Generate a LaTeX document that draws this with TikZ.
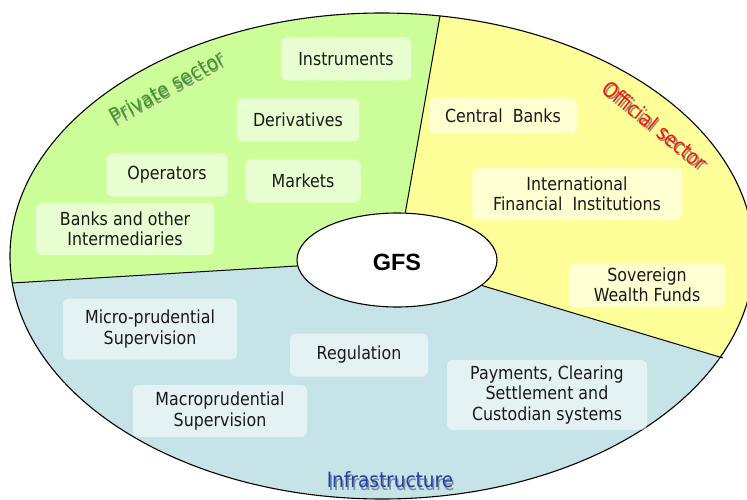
\documentclass[tikz,border=0pt]{standalone}
\usepackage{fontspec}
\setmainfont{DejaVu Sans}[FakeStretch=0.88]
\newfontfamily\gfsfont{Liberation Sans}
\usetikzlibrary{shapes.geometric}
\definecolor{privgreen}{HTML}{CCFF99}
\definecolor{offyellow}{HTML}{FFFF99}
\definecolor{infblue}{HTML}{C6E4E8}
\definecolor{privtext}{HTML}{3A9A2A}
\definecolor{offtext}{HTML}{FF1010}
\definecolor{inftext}{HTML}{2040B0}
\definecolor{shadowgray}{HTML}{6E6E6E}
\begin{document}
\begin{tikzpicture}[x=1pt,y=-1pt,
  box/.style={rounded corners=6pt, fill=white, fill opacity=0.55, text opacity=1,
    align=center, inner sep=0pt, font=\fontsize{18}{20.5}\selectfont, text=black!90},
  sectorlabel/.style={inner sep=0pt, font=\fontsize{21}{24}\selectfont},
  shadowtext/.style={sectorlabel, text=shadowgray, text opacity=0.75},
  divider/.style={draw=black, line width=1pt}]
\useasboundingbox (0,0) rectangle (747,500);
% big ellipse and sectors
\begin{scope}
  \clip (382,256) ellipse [x radius=372, y radius=243];
  \fill[infblue] (-40,-40) rectangle (800,540);
  \fill[privgreen] (397,260) -- (-26.5,285.3) -- (-40,-40) -- (448.6,-32.8) -- cycle;
  \fill[offyellow] (397,260) -- (448.6,-32.8) -- (800,-40) -- (788,378) -- cycle;
\end{scope}
\draw[line width=1.1pt] (382,256) ellipse [x radius=372, y radius=243];
% centre
\node[ellipse, draw=black, line width=1.1pt, fill=white, minimum width=200, minimum height=94,
  inner sep=0pt] (gfs) at (397,260) {};
\node[inner sep=0pt, font=\gfsfont\bfseries\fontsize{23.5}{26}\selectfont] (gfstext) at (397,262) {GFS};
\coordinate (p1) at (12,283);
\coordinate (p2) at (440,16);
\coordinate (p3) at (723,358);
\draw[divider] (gfs) -- (p1);
\draw[divider] (gfs) -- (p2);
\draw[divider] (gfs) -- (p3);
% private sector boxes
\node[box, minimum width=130, minimum height=43] (instr) at (346,59) {Instruments};
\node[box, minimum width=122, minimum height=43] (deriv) at (298,120) {Derivatives};
\node[box, minimum width=121, minimum height=43] (oper) at (167,175) {Operators};
\node[box, minimum width=115, minimum height=43] (mark) at (303,181) {Markets};
\node[box, minimum width=178, minimum height=52] (banks) at (125,229) {Banks and other\\Intermediaries};
% official sector boxes
\node[box, minimum width=148, minimum height=35] (cb) at (503,116) {Central\ \ Banks};
\node[box, minimum width=210, minimum height=52] (ifi) at (577,194) {International\\Financial\ \ Institutions};
\node[box, minimum width=156, minimum height=44] (swf) at (647,285) {Sovereign\\Wealth Funds};
% infrastructure boxes
\node[box, minimum width=174, minimum height=61] (micro) at (150,329) {Micro-prudential\\Supervision};
\node[box, minimum width=138, minimum height=43] (reg) at (359,355) {Regulation};
\node[box, minimum width=174, minimum height=52] (macro) at (220,411) {Macroprudential\\Supervision};
\node[box, minimum width=200, minimum height=70] (pay) at (547,395) {Payments, Clearing\\Settlement and\\Custodian systems};
% sector labels with shadows
\node[shadowtext, rotate=29] (privsh) at (168.5,89.5) {Private sector};
\node[sectorlabel, text=privtext, rotate=29] (priv) at (167,87) {Private sector};
\node[shadowtext, rotate=-39] (offsh) at (656.5,127.5) {Official sector};
\node[sectorlabel, text=offtext, rotate=-39] (off) at (655,125) {Official sector};
\node[shadowtext] (infsh) at (391.5,483) {Infrastructure};
\node[sectorlabel, text=inftext] (inf) at (390,480) {Infrastructure};
\end{tikzpicture}
\end{document}
